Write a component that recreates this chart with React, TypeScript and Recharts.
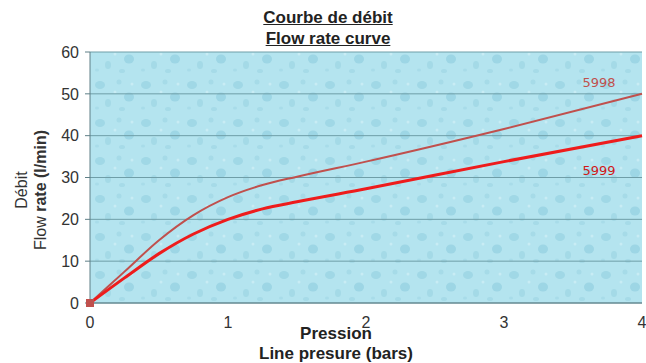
import React from "react";
import { LineChart, Line, XAxis, YAxis, CartesianGrid, LabelList } from "recharts";

const pressure = [0, 0.25, 0.5, 0.75, 1, 1.25, 1.5, 2, 3, 4];
const flow5998 = [0, 7.5, 15, 21, 25.3, 28.2, 30.2, 33.8, 41.6, 50];
const flow5999 = [0, 6, 11.8, 16.5, 20, 22.5, 24.2, 27.3, 33.8, 40];
const xTicks = [0, 1, 2, 3, 4];
const yTicks = [0, 10, 20, 30, 40, 50, 60];
const seriesNames = ["5998", "5999"];

const data = pressure.map((p, i) => ({ p, a: flow5998[i], b: flow5999[i] }));

const OriginDot = (props: any) => {
  const { cx, cy, index } = props;
  if (index !== 0) return <g key={"d" + index} />;
  return <rect key={"d" + index} x={cx - 4} y={cy - 4} width={8} height={8} fill="#c0504d" />;
};

const makeLabel = (name: string, color: string, dy: number) => (props: any) => {
  const { x, y, index } = props;
  if (index !== data.length - 1) return null;
  return (
    <text x={x - 43} y={y + dy} fill={color} fontSize={13} fontFamily="DejaVu Sans, sans-serif" textAnchor="middle">
      {name}
    </text>
  );
};

export default function App() {
  return (
    <div style={{ position: "absolute", left: 0, top: 0, width: 646, height: 363, background: "#fff", fontFamily: "Liberation Sans, Arial, sans-serif" }}>
      <div style={{ position: "absolute", left: 0, top: 7, width: 656, textAlign: "center", fontWeight: "bold", fontSize: 17, lineHeight: "21px", textDecoration: "underline", color: "#222" }}>
        Courbe de débit<br />Flow rate curve
      </div>
      <LineChart width={646} height={363} data={data} margin={{ top: 52, right: 4, bottom: 0, left: 0 }}>
        <defs>
          <pattern id="drops" width="46" height="38" patternUnits="userSpaceOnUse">
            <rect width="46" height="38" fill="#b4e4ef" />
            <ellipse cx="8" cy="9" rx="5" ry="4" fill="#a0d8e6" />
            <ellipse cx="27" cy="6" rx="2.5" ry="2.5" fill="#a6dbe8" />
            <ellipse cx="37" cy="21" rx="5" ry="4.5" fill="#9dd6e5" />
            <ellipse cx="16" cy="27" rx="3" ry="4" fill="#a4dae7" />
            <ellipse cx="5" cy="32" rx="2" ry="1.5" fill="#a8dce9" />
            <ellipse cx="23" cy="16" rx="1.5" ry="1.5" fill="#c8ecf4" />
            <ellipse cx="40" cy="8" rx="1.5" ry="1.5" fill="#c8ecf4" />
            <ellipse cx="30" cy="33" rx="3" ry="2" fill="#a6dbe8" />
          </pattern>
        </defs>
        <CartesianGrid fill="url(#drops)" vertical={false} stroke="#6f9ea8" strokeOpacity={1} />
        <XAxis
          dataKey="p"
          type="number"
          domain={[0, 4]}
          ticks={xTicks}
          height={60}
          axisLine={{ stroke: "#5f7f86" }}
          tickLine={false}
          tick={{ fill: "#333", fontSize: 16 }}
          tickMargin={8}
        />
        <YAxis
          type="number"
          domain={[0, 60]}
          ticks={yTicks}
          width={90}
          axisLine={{ stroke: "#5f7f86" }}
          tickLine={{ stroke: "#5f7f86" }}
          tickSize={5}
          tick={{ fill: "#333", fontSize: 16 }}
          tickMargin={6}
        />
        <Line type="monotone" dataKey="a" stroke="#c0504d" strokeWidth={2} dot={<OriginDot />} isAnimationActive={false}>
          <LabelList dataKey="a" content={makeLabel(seriesNames[0], "#c0504d", -7)} />
        </Line>
        <Line type="monotone" dataKey="b" stroke="#ee1c1c" strokeWidth={3} dot={false} isAnimationActive={false}>
          <LabelList dataKey="b" content={makeLabel(seriesNames[1], "#d01818", 39)} />
        </Line>
      </LineChart>
      <div style={{ position: "absolute", left: 0, top: 324, width: 672, textAlign: "center", fontWeight: "bold", fontSize: 17, lineHeight: "20px", color: "#222" }}>
        Pression<br />Line presure (bars)
      </div>
      <div style={{ position: "absolute", left: 31, top: 190, width: 0, height: 0 }}>
        <div style={{ position: "absolute", transform: "translate(-50%, -50%) rotate(-90deg)", whiteSpace: "nowrap", textAlign: "center", fontSize: 16, lineHeight: "19px", color: "#333" }}>
          Débit<br />Flow <b>rate (l/min)</b>
        </div>
      </div>
    </div>
  );
}
